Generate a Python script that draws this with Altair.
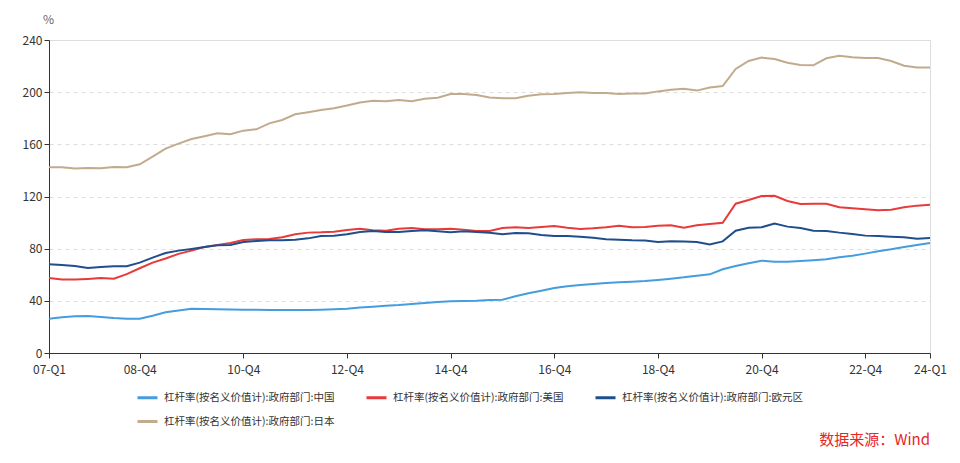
import altair as alt
import pandas as pd

quarters = [f"{y:02d}-Q{q}" for y in range(7, 25) for q in range(1, 5)][:69]
tick_labels = ["07-Q1", "08-Q4", "10-Q4", "12-Q4", "14-Q4", "16-Q4", "18-Q4", "20-Q4", "22-Q4", "24-Q1"]

series_names = [
    "杠杆率(按名义价值计):政府部门:中国",
    "杠杆率(按名义价值计):政府部门:美国",
    "杠杆率(按名义价值计):政府部门:欧元区",
    "杠杆率(按名义价值计):政府部门:日本",
]
colors = ["#449DDE", "#E83A3A", "#1F4E8C", "#C2AB8D"]

china = [26.3, 27.4, 28.1, 28.4, 27.6,
         26.8, 26.3, 26.3, 28.6, 31.2,
         32.5, 34.0, 33.8, 33.5, 33.3,
         33.1, 33.1, 33.0, 33.0, 33.0,
         33.0, 33.2, 33.5, 34.0, 34.8,
         35.5, 36.3, 36.8, 37.6, 38.3,
         39.1, 39.6, 39.9, 40.1, 40.6,
         40.9, 43.5, 45.8, 47.8, 49.8,
         51.1, 52.1, 52.9, 53.7, 54.2,
         54.7, 55.2, 56.0, 57.0, 58.0,
         59.3, 60.3, 64.2, 66.7, 68.8,
         70.8, 70.0, 70.0, 70.5, 71.1,
         71.9, 73.4, 74.6, 76.2, 78.0,
         79.5, 81.3, 82.8, 84.4]

usa = [57.5, 56.3, 56.3, 56.8, 57.5,
       57.0, 60.5, 65.0, 69.3, 72.5,
       76.0, 78.5, 81.3, 82.8, 84.4,
       86.7, 87.2, 87.5, 88.7, 91.0,
       92.3, 92.5, 93.0, 94.3, 95.3,
       94.1, 93.8, 95.3, 95.9, 94.9,
       94.9, 95.3, 94.6, 93.6, 93.5,
       95.9, 96.4, 95.9, 96.6, 97.4,
       96.1, 95.1, 95.6, 96.4, 97.6,
       96.4, 96.6, 97.6, 97.9, 96.1,
       97.9, 99.0, 99.9, 114.5, 117.3,
       120.4, 120.6, 116.6, 114.3, 114.5,
       114.5, 111.7, 111.0, 110.2, 109.4,
       109.9, 111.7, 113.0, 113.7]

euro = [68.0, 67.5, 66.7, 65.2, 65.9,
        66.5, 66.5, 69.3, 73.1, 76.7,
        78.5, 79.8, 81.3, 82.6, 82.8,
        85.1, 85.9, 86.5, 86.4, 86.9,
        87.9, 89.7, 89.9, 91.0, 92.8,
        93.6, 92.8, 92.8, 93.6, 94.1,
        93.3, 92.5, 93.3, 92.8, 92.2,
        91.0, 92.0, 91.8, 90.5, 89.7,
        89.7, 89.2, 88.4, 87.2, 86.9,
        86.4, 86.2, 85.1, 85.6, 85.4,
        85.1, 83.2, 85.6, 93.8, 96.1,
        96.4, 99.2, 96.9, 95.9, 93.8,
        93.6, 92.3, 91.3, 90.0, 89.7,
        89.2, 88.7, 87.7, 88.2]

japan = [142.4, 142.5, 141.5, 141.8, 141.7,
         142.6, 142.4, 144.7, 150.6, 156.7,
         160.5, 164.1, 166.2, 168.5, 167.7,
         170.5, 171.5, 176.1, 178.7, 183.0,
         184.6, 186.3, 187.6, 189.7, 192.0,
         193.5, 193.0, 194.0, 193.0, 195.0,
         195.8, 198.6, 198.6, 197.9, 196.0,
         195.3, 195.3, 197.3, 198.4, 198.6,
         199.4, 199.9, 199.4, 199.4, 198.6,
         198.9, 198.9, 200.6, 201.9, 202.7,
         201.2, 203.5, 204.7, 217.8, 223.9,
         226.5, 225.4, 222.6, 220.9, 220.6,
         226.0, 228.0, 226.7, 226.2, 226.2,
         223.9, 220.3, 219.0, 219.0]

rows = []
for name, vals in zip(series_names, [china, usa, euro, japan]):
    for q, v in zip(quarters, vals):
        rows.append({"quarter": q, "value": v, "series": name})
df = pd.DataFrame(rows)

FONT = "Noto Sans CJK SC"

lines = alt.Chart(df).mark_line(strokeWidth=2).encode(
    x=alt.X("quarter:O", sort=quarters,
            scale=alt.Scale(type="point", padding=0),
            axis=alt.Axis(values=tick_labels, labelAngle=0, title=None,
                          domainColor="#333333", tickColor="#333333", tickSize=5,
                          labelColor="#333333", labelFontSize=12, labelFont=FONT,
                          labelPadding=6, grid=False)),
    y=alt.Y("value:Q", scale=alt.Scale(domain=[0, 240], nice=False),
            axis=alt.Axis(values=[0, 40, 80, 120, 160, 200, 240], title="%",
                          titleAngle=0, titleX=-1, titleY=-14, titleAlign="center",
                          titleFontWeight="normal", titleFontSize=12, titleColor="#666666",
                          titleFont=FONT,
                          domainColor="#333333", tickColor="#333333", tickSize=5,
                          labelColor="#333333", labelFontSize=12, labelFont=FONT,
                          labelPadding=2,
                          gridColor="#dddddd", gridDash=[4, 4], gridWidth=1)),
    color=alt.Color("series:N", scale=alt.Scale(domain=series_names, range=colors),
                    legend=alt.Legend(orient="none", legendX=87, legendY=346,
                                      direction="horizontal", columns=3, title=None,
                                      symbolType="stroke", symbolStrokeWidth=3,
                                      symbolSize=400, labelFontSize=10.5, labelFont=FONT,
                                      labelColor="#333333", columnPadding=25,
                                      labelLimit=400,
                                      rowPadding=6, labelOffset=5)),
)

source = alt.Chart(pd.DataFrame({"t": ["数据来源：Wind"]})).mark_text(
    align="right", baseline="middle", fontSize=15, font=FONT, color="#E8251F"
).encode(text="t:N", x=alt.value(881), y=alt.value(400))

chart = alt.layer(lines, source).properties(
    width=881, height=313,
    autosize=alt.AutoSizeParams(type="none"),
    padding={"left": 41, "top": 32, "right": 22, "bottom": 102},
).configure_view(stroke=None).configure(font=FONT)

chart.save("out.html", embed_options={"renderer": "svg", "actions": False})
